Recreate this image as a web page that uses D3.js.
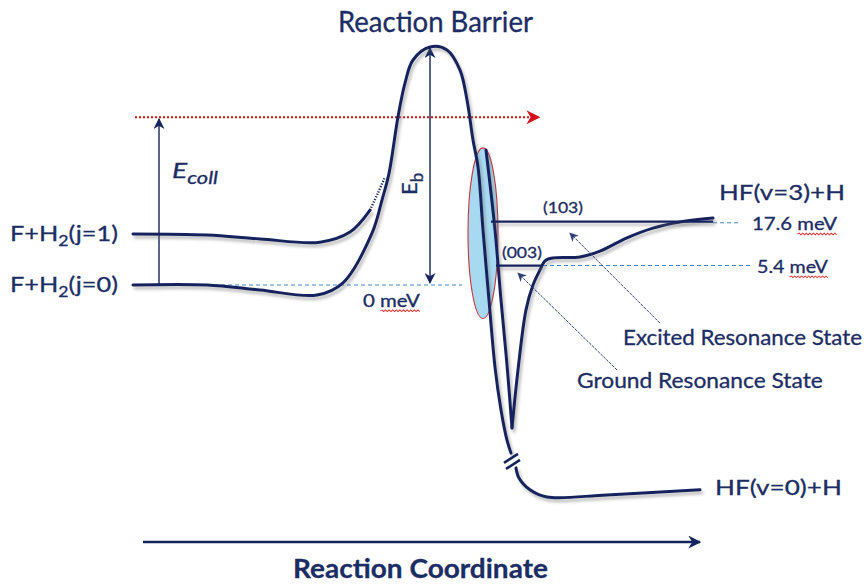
<!DOCTYPE html>
<html><head><meta charset="utf-8">
<script src="https://cdn.jsdelivr.net/npm/d3@7"></script>
<style>
body{margin:0;background:#fff}
svg{display:block}
text{font-family:Lato,"Open Sans",sans-serif;fill:#1b2d64;stroke:#1b2d64;stroke-width:0.3px;paint-order:stroke}
</style>
</head><body>
<svg id="c" width="868" height="586"></svg>
<script>
// ---------- DATA (reaction coordinate units, energy in meV-scale diagram units) ----------
const barrierPath = [[0,0],[74,0],[127,-1.4],[184,-2.8],[210,0.6],[239,14.4],[249,23.6],[256,31],[265,46.7],[272,56.1],[280,62.5],[297,66.1],[314,65.3],[327,59.7],[334,51.4],[340,40.3],[345,32.8],[350,15.3],[356,-4.2],[362,-22.8],[368,-34.7],[374,-43.1],[378,-46.7]];
const productPath = [[383,-50.8],[386,-53.6],[397,-56.9],[414,-58.9],[474,-58.3],[567,-56.9]];
const j1Path = [[0,14.2],[74,13.9],[127,12.8],[187,11.9],[217,14.7],[237,20.8]];
const j1Dotted = [[237,20.8],[245,25.6],[252,30]];
const v3Wall = [[353,37.5],[362,15.3],[368,-4.2],[374,-22.2],[379,-39.7]];
const v3Exit = [[379,-39.7],[385,-23.6],[393,-6.9],[400,0],[407,4.2],[412,6.7],[420,7.5],[447,7.8],[467,9.4],[494,13.1],[520,15.8],[547,17.5],[580,18.6]];
const breakMarks = [[[371,-49.4],[385,-46.9]],[[373,-51.1],[387,-48.6]]];
const reactantLabels = ["j=0","j=1"];
const reactantEnergies = [0, 14.2];
const levelNames = ["(003)","(103)"];
const levelEnergies = [5.4, 17.6];
const zeroLabel = "0 meV";
const barrierTop = 66.1;
const collisionEnergy = 46.6;
const productLabels = ["HF(v=3)+H","HF(v=0)+H"];
const stateLabels = ["Excited Resonance State","Ground Resonance State"];

// ---------- SCALES ----------
const svg = d3.select("#c");
const x = d3.scaleLinear().domain([0,580]).range([133,713]);
const y = d3.scaleLinear().domain([0,66]).range([285,47.4]);
const navy = "#13245d";

const defs = svg.append("defs");
const f = defs.append("filter").attr("id","sh").attr("filterUnits","userSpaceOnUse")
  .attr("x",0).attr("y",0).attr("width",868).attr("height",586);
f.append("feDropShadow").attr("dx",2).attr("dy",3).attr("stdDeviation",1.6)
  .attr("flood-color","#666").attr("flood-opacity",0.45);
function marker(id, color, w, h){
  defs.append("marker").attr("id",id).attr("viewBox","0 0 10 10").attr("refX",9).attr("refY",5)
    .attr("markerWidth",w).attr("markerHeight",h).attr("markerUnits","userSpaceOnUse")
    .attr("orient","auto-start-reverse")
    .append("path").attr("d","M0,0 L10,5 L0,10 L3,5 Z").attr("fill",color);
}
marker("aN", navy, 11, 11);
marker("aR", "#d0141c", 14, 14);
marker("aT", "#2e4278", 9, 9);
marker("aB", navy, 13, 13);

const line = d3.line().x(d=>x(d[0])).y(d=>y(d[1])).curve(d3.curveCatmullRom.alpha(0.5));
const straight = d3.line().x(d=>x(d[0])).y(d=>y(d[1]));

// ---------- dashed reference levels ----------
const dash = {stroke:"#3f88cc","stroke-width":1.1,"stroke-dasharray":"4,3",fill:"none"};
function seg(pts, style, m1, m2){
  const p = svg.append("path").attr("d", straight(pts));
  Object.entries(style).forEach(([k,v])=>p.attr(k,v));
  if (m1) p.attr("marker-start", `url(#${m1})`);
  if (m2) p.attr("marker-end", `url(#${m2})`);
  return p;
}
seg([[74,0],[329,0]], dash);
seg([[410,levelEnergies[0]],[620,levelEnergies[0]]], dash);
seg([[580,levelEnergies[1]-0.3],[605,levelEnergies[1]-0.3]], dash);

// ---------- red collision-energy dotted arrow ----------
seg([[2,collisionEnergy],[406,collisionEnergy]], {stroke:"#d0141c","stroke-width":2,"stroke-dasharray":"2,2",fill:"none"}, null, "aR");

// ---------- Ecoll & Eb arrows ----------
seg([[26,0],[26,collisionEnergy-0.5]], {stroke:navy,"stroke-width":1.4,fill:"none"}, null, "aN");
seg([[297,0.6],[297,barrierTop-0.3]], {stroke:navy,"stroke-width":1.4,fill:"none"}, "aN", "aN");

// ---------- ellipse (resonance region) ----------
svg.append("ellipse").attr("cx", x(350)).attr("cy", y(14.4))
  .attr("rx", x(365)-x(350)).attr("ry", y(14.4-23.7)-y(14.4))
  .attr("fill","#a7daf1").attr("stroke","#c8323a").attr("stroke-width",1.1);

// ---------- curves ----------
const curves = svg.append("g").attr("fill","none").attr("stroke",navy).attr("filter","url(#sh)");
[barrierPath, productPath, j1Path, v3Wall, v3Exit].forEach(p=>{
  curves.append("path").attr("d", line(p)).attr("stroke-width",3).attr("stroke-linecap","round");
});
svg.append("path").attr("d", line(j1Dotted)).attr("fill","none").attr("stroke",navy)
  .attr("stroke-width",2.4).attr("stroke-dasharray","1.2,1.6");
breakMarks.forEach(b=>{
  svg.append("path").attr("d", straight(b)).attr("stroke",navy).attr("stroke-width",2.6).attr("fill","none");
});

// ---------- resonance levels ----------
const lv = svg.append("g").attr("stroke",navy).attr("stroke-width",2.2).attr("filter","url(#sh)");
lv.append("path").attr("d", straight([[363,levelEnergies[0]],[408,levelEnergies[0]]]));
lv.append("path").attr("d", straight([[358,levelEnergies[1]],[580,levelEnergies[1]]]));

// ---------- thin pointer arrows ----------
seg([[527,-10.6],[437,14.4]], {stroke:"#2e4278","stroke-width":1,fill:"none","stroke-dasharray":"3,1"}, null, "aT");
seg([[484,-23.6],[385,3.3]], {stroke:"#2e4278","stroke-width":1,fill:"none","stroke-dasharray":"3,1"}, null, "aT");

// ---------- bottom axis arrow ----------
seg([[10,-71.4],[567,-71.4]], {stroke:navy,"stroke-width":2.4,fill:"none"}, null, "aB");

// ---------- text ----------
function label(x0, yb, parts, size, width, extra={}){
  const t = svg.append("text").attr("x",x0).attr("y",yb).style("font-size",size+"px");
  if (extra.weight) t.style("font-weight",extra.weight);
  if (extra.italic) t.style("font-style","italic");
  parts.forEach(p=>{
    const s = t.append("tspan").text(p.t);
    if (p.size) s.style("font-size",p.size+"px");
    if (p.dy) s.attr("dy",p.dy);
  });
  let tr = "";
  if (width){
    const w = t.node().getComputedTextLength();
    const k = width/w;
    tr = `translate(${x0},0) scale(${k},1) translate(${-x0},0)`;
    t.attr("transform", tr);
  }
  if (extra.squiggle){
    const str = t.text();
    const i0 = str.indexOf(extra.squiggle);
    const n = t.node();
    const sx = n.getStartPositionOfChar(i0).x;
    const ex = n.getEndPositionOfChar(i0+extra.squiggle.length-1).x;
    let d = `M${sx},${yb+4}`;
    let up = true;
    for (let xx = sx+1.5; xx <= ex; xx += 1.5){ d += ` L${xx},${yb+(up?3:4.6)}`; up = !up; }
    svg.append("path").attr("d",d).attr("fill","none").attr("stroke","#e03030").attr("stroke-width",0.9).attr("transform",tr);
  }
  return t;
}

label(338, 32, [{t:"Reaction Barrier"}], 28, 195);
reactantLabels.forEach((r,i)=>{
  label(10, y(reactantEnergies[i])+7, [{t:"F+H"},{t:"2",size:15,dy:5},{t:"("+r+")",dy:-5}], 21.5, 108);
});
label(719, y(levelEnergies[1])-21.5, [{t:productLabels[0]}], 22, 126);
label(715, y(productPath[productPath.length-1][1])+5, [{t:productLabels[1]}], 22, 127);
label(752, y(levelEnergies[1])+8.5, [{t:levelEnergies[1]+" meV"}], 17, 85, {squiggle:"meV"});
label(757, y(levelEnergies[0])+7.5, [{t:levelEnergies[0]+" meV"}], 17, 71, {squiggle:"meV"});
label(363, y(0)+22, [{t:zeroLabel}], 17, 57, {squiggle:"meV"});
label(543, y(levelEnergies[1])-8.5, [{t:levelNames[1]}], 15.5, 40);
label(502, y(levelEnergies[0])-7.5, [{t:levelNames[0]}], 15.5, 40);
label(623, 345, [{t:stateLabels[0]}], 21.5, 239);
label(577, 388, [{t:stateLabels[1]}], 21.5, 246);
label(172, 178, [{t:"E"},{t:"coll",size:17,dy:6}], 22, 46, {italic:true});
label(293, 578, [{t:"Reaction Coordinate"}], 27, 255, {weight:"bold"});

// rotated E_b
const eb = svg.append("text").attr("transform",`translate(${x(297)-13},195) rotate(-90)`).style("font-size","22px");
eb.append("tspan").text("E");
eb.append("tspan").text("b").style("font-size","17px").attr("dy",6);
</script>
</body></html>
